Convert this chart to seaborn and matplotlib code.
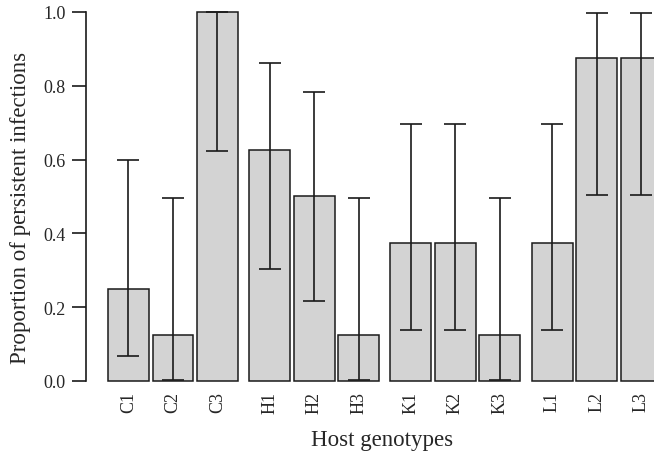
import matplotlib
matplotlib.use("Agg")
import matplotlib.pyplot as plt
import pandas as pd
import seaborn as sns

# Proportion of persistent infections per host genotype, with CI bounds
genotypes = ["C1", "C2", "C3", "H1", "H2", "H3", "K1", "K2", "K3", "L1", "L2", "L3"]
proportion = [0.25, 0.125, 1.0, 0.625, 0.5, 0.125, 0.375, 0.375, 0.125, 0.375, 0.875, 0.875]
ci_low = [0.068, 0.004, 0.622, 0.304, 0.217, 0.004, 0.138, 0.138, 0.004, 0.138, 0.505, 0.505]
ci_high = [0.600, 0.495, 1.0, 0.862, 0.783, 0.495, 0.696, 0.696, 0.495, 0.696, 0.996, 0.996]

sns.set_style("white")
plt.rcParams["font.family"] = ["Liberation Serif", "DejaVu Serif"]

# bars grouped by three, a small extra gap between groups
pos = [i + (i // 3) * 0.173 for i in range(len(genotypes))]
df = pd.DataFrame({"pos": pos, "prop": proportion})

fig = plt.figure(figsize=(6.54, 4.56), dpi=100)
ax = fig.add_axes([86 / 654, 0.1461, 568 / 654, 0.8497])

sns.barplot(data=df, x="pos", y="prop", native_scale=True, width=0.92,
            color="#d3d3d3", saturation=1, edgecolor="#1a1a1a",
            linewidth=1.1, errorbar=None, ax=ax)

low_err = [p - lo for p, lo in zip(proportion, ci_low)]
high_err = [hi - p for p, hi in zip(proportion, ci_high)]
ax.errorbar(pos, proportion, yerr=[low_err, high_err], fmt="none",
            ecolor="#1a1a1a", elinewidth=1.2, capsize=7.6, capthick=1.2)

ax.set_xlim(-0.955, 11.81)
ax.set_ylim(-0.02, 1.03)

for side in ["top", "right", "bottom"]:
    ax.spines[side].set_visible(False)
ax.spines["left"].set_bounds(0, 1)
ax.spines["left"].set_linewidth(1.2)
ax.spines["left"].set_color("#1a1a1a")

ax.set_yticks([0, 0.2, 0.4, 0.6, 0.8, 1.0])
ax.set_yticklabels(["0.0", "0.2", "0.4", "0.6", "0.8", "1.0"])
ax.tick_params(axis="y", direction="out", length=10, width=1.2,
               color="#1a1a1a", pad=4.8, labelsize=13, left=True)

ax.set_xticks(pos)
ax.set_xticklabels(genotypes, rotation=90)
ax.tick_params(axis="x", length=0, pad=2, labelsize=13)

ax.set_xlabel("Host genotypes", fontsize=16.5)
ax.set_ylabel("Proportion of persistent infections", fontsize=16.5)
ax.xaxis.set_label_coords(0.521, -0.106)
ax.yaxis.set_label_coords(-0.0968, 0.467)

fig.savefig("out.png", dpi=100)
